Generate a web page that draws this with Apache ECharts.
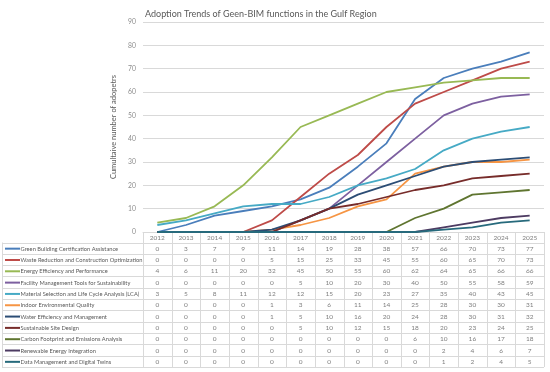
<!DOCTYPE html>
<html>
<head>
<meta charset="utf-8">
<script src="https://cdn.jsdelivr.net/npm/echarts@6/dist/echarts.min.js"></script>
<style>
html,body{margin:0;padding:0;background:#fff;}
#c{width:550px;height:372px;}
</style>
</head>
<body>
<div id="c"></div>
<script>
const titleText = "Adoption Trends of Geen-BIM functions in the Gulf Region";
const yAxisTitle = "Cumultaive number of adopetrs";
const years = ["2012","2013","2014","2015","2016","2017","2018","2019","2020","2021","2022","2023","2024","2025"];

const greenBuilding = [0,3,7,9,11,14,19,28,38,57,66,70,73,77];
const wasteReduction = [0,0,0,0,5,15,25,33,45,55,60,65,70,73];
const energyEfficiency = [4,6,11,20,32,45,50,55,60,62,64,65,66,66];
const facilityManagement = [0,0,0,0,0,5,10,20,30,40,50,55,58,59];
const materialSelection = [3,5,8,11,12,12,15,20,23,27,35,40,43,45];
const indoorEnvironmental = [0,0,0,0,1,3,6,11,14,25,28,30,30,31];
const waterEfficiency = [0,0,0,0,1,5,10,16,20,24,28,30,31,32];
const sustainableSite = [0,0,0,0,0,5,10,12,15,18,20,23,24,25];
const carbonFootprint = [0,0,0,0,0,0,0,0,0,6,10,16,17,18];
const renewableEnergy = [0,0,0,0,0,0,0,0,0,0,2,4,6,7];
const dataManagement = [0,0,0,0,0,0,0,0,0,0,1,2,4,5];

const seriesNames = [
  "Green Building Certification Assistance",
  "Waste Reduction and Construction Optimization",
  "Energy Efficiency and Performance",
  "Facility Management Tools for Sustainability",
  "Material Selection and Life Cycle Analysis (LCA)",
  "Indoor Environmental Quality",
  "Water Efficiency and Management",
  "Sustainable Site Design",
  "Carbon Footprint and Emissions Analysis",
  "Renewable Energy Integration",
  "Data Management and Digital Twins"
];
const seriesValues = [greenBuilding, wasteReduction, energyEfficiency, facilityManagement,
  materialSelection, indoorEnvironmental, waterEfficiency, sustainableSite,
  carbonFootprint, renewableEnergy, dataManagement];
const colors = ["#4a7ebb","#be4b48","#98b954","#7d60a0","#46aac5","#f69544",
  "#2c4d75","#772c2a","#5f7530","#4d3b62","#276a7c"];

const FONT = "Lato, 'Noto Sans', sans-serif";
const chart = echarts.init(document.getElementById('c'), null, {renderer:'canvas'});

const option = {
  animation:false,
  color: colors,
  title:{text:titleText, left:140, top:5,
    textStyle:{fontFamily:FONT,fontSize:9,fontWeight:'normal',color:'#595959'}},
  grid:{left:143,right:6,top:22,bottom:140},
  xAxis:{type:'category',data:years,boundaryGap:true,
    axisLabel:{show:false},axisTick:{show:false},
    axisLine:{lineStyle:{color:'#d9d9d9'}}},
  yAxis:{type:'value',min:0,max:90,interval:10,
    name:yAxisTitle,nameLocation:'middle',nameGap:14,
    nameTextStyle:{fontFamily:FONT,fontSize:7.5,color:'#595959'},
    axisLabel:{fontFamily:FONT,fontSize:6.8,color:'#8c8c8c',margin:7},
    axisLine:{show:false},axisTick:{show:false},
    splitLine:{lineStyle:{color:'#d9d9d9',width:1}}},
  series: seriesNames.map((n,i)=>({name:n,type:'line',data:seriesValues[i],
    symbol:'none',lineStyle:{width:1.8,color:colors[i]},itemStyle:{color:colors[i]}}))
};
chart.setOption(option);

// Build the data table under the axis from the same arrays
const xs = years.map((y,i)=>chart.convertToPixel({xAxisIndex:0}, i));
const colW = xs[1]-xs[0];
const tableLeft = 2;
const colStart = xs[0]-colW/2;
const tableRight = xs[xs.length-1]+colW/2;
const yTop = chart.convertToPixel({yAxisIndex:0}, 0);
const headerH = 10.5;
const tableBottom = 367;
const rowH = (tableBottom - (yTop+headerH))/seriesNames.length;
const g = [];
const lineStyle = {stroke:'#d9d9d9',lineWidth:1};
const txtStyle = {fontFamily:FONT,fontSize:6.5,fill:'#7f7f7f'};
years.forEach((y,i)=>{
  g.push({type:'text',x:xs[i],y:yTop+headerH/2+0.5,style:Object.assign({text:y,align:'center',verticalAlign:'middle'},txtStyle)});
});
for(let r=0;r<=seriesNames.length;r++){
  const yy = Math.round(yTop+headerH+r*rowH)+0.5;
  g.push({type:'line',shape:{x1:tableLeft,y1:yy,x2:tableRight,y2:yy},style:lineStyle});
}
g.push({type:'line',shape:{x1:tableLeft+0.5,y1:yTop+headerH,x2:tableLeft+0.5,y2:tableBottom},style:lineStyle});
for(let c=0;c<=years.length;c++){
  const xx = Math.round(colStart+c*colW)+0.5;
  g.push({type:'line',shape:{x1:xx,y1:yTop,x2:xx,y2:tableBottom},style:lineStyle});
}
seriesNames.forEach((n,r)=>{
  const cy = yTop+headerH+(r+0.5)*rowH+0.5;
  g.push({type:'line',shape:{x1:5,y1:cy,x2:20,y2:cy},style:{stroke:colors[r],lineWidth:2}});
  g.push({type:'text',x:20.5,y:cy,scaleX:0.88,
    style:Object.assign({text:n,align:'left',verticalAlign:'middle'},txtStyle,{fill:'#595959'})});
  seriesValues[r].forEach((v,i)=>{
    g.push({type:'text',x:xs[i],y:cy,style:Object.assign({text:String(v),align:'center',verticalAlign:'middle'},txtStyle)});
  });
});
chart.setOption({graphic:g});
</script>
</body>
</html>
